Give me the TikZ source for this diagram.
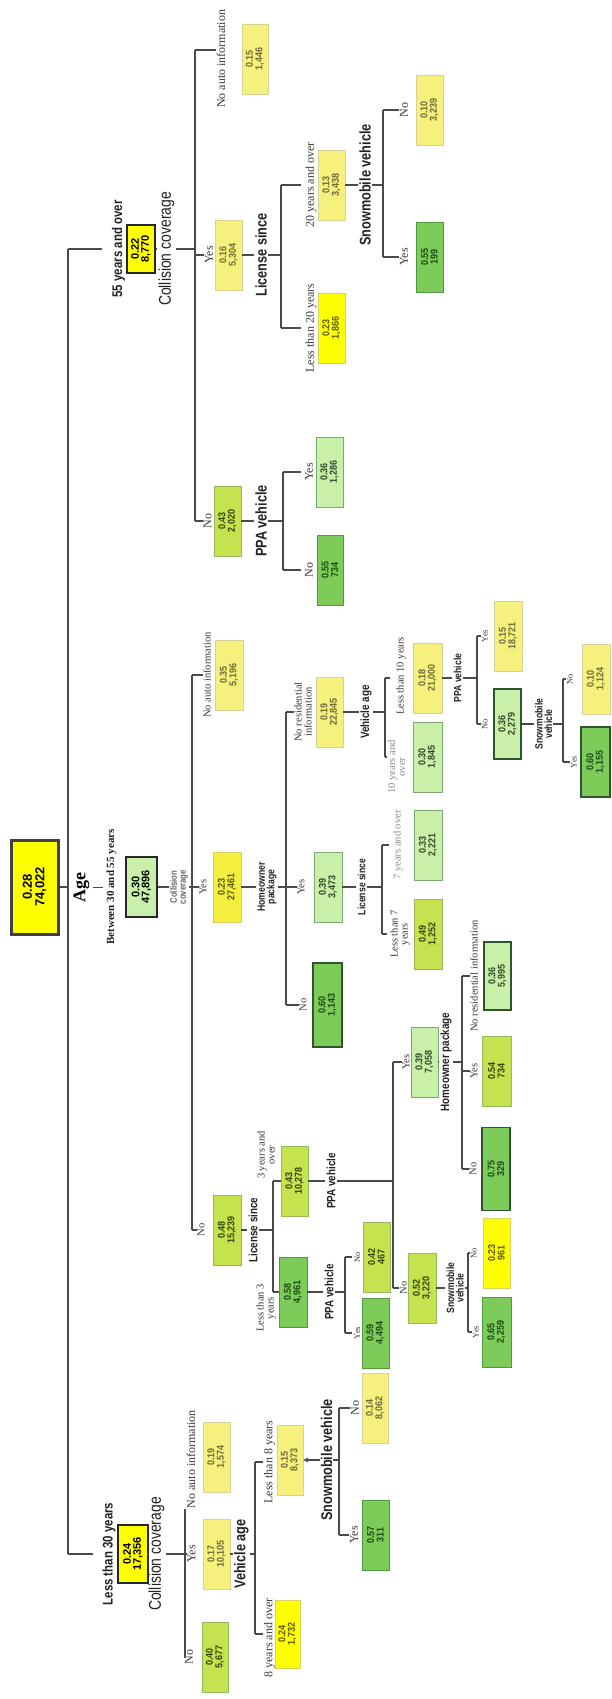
\documentclass[tikz,border=0pt]{standalone}
\usepackage{fontspec}
\setmainfont{Liberation Serif}
\newfontfamily\sansC{Liberation Sans}[FakeStretch=0.82]
\newfontfamily\sansB{Liberation Sans}[FakeStretch=0.9]
\usetikzlibrary{arrows.meta}
\definecolor{linec}{HTML}{4A4A4A}
\definecolor{paleF}{HTML}{F6F07C}
\definecolor{paleD}{HTML}{D6D29A}
\definecolor{paleT}{HTML}{6E6A3A}
\definecolor{brightF}{HTML}{FFFF00}
\definecolor{brightD}{HTML}{D8D060}
\definecolor{brightT}{HTML}{5A5A10}
\definecolor{ygF}{HTML}{C5E34F}
\definecolor{ygD}{HTML}{98B860}
\definecolor{ygT}{HTML}{34440F}
\definecolor{lgF}{HTML}{C9F0A8}
\definecolor{lgD}{HTML}{7BAA70}
\definecolor{lgT}{HTML}{2E4A2A}
\definecolor{grF}{HTML}{7DCB58}
\definecolor{grD}{HTML}{4F9A40}
\definecolor{grT}{HTML}{1D4A1A}
\definecolor{dgD}{HTML}{2E5530}
\definecolor{y2F}{HTML}{F4EE3E}
\definecolor{labT}{HTML}{3A3A3A}
\definecolor{splT}{HTML}{222222}
\tikzset{
  conn/.style={draw=linec, line width=1.3pt},
  bx/.style={rotate=90, draw, line width=0.8pt, inner sep=0pt, align=center,
    font=\sansB\bfseries\fontsize{10}{9.5}\selectfont, minimum width=70pt, minimum height=27pt},
  bxPale/.style={bx, fill=paleF, draw=paleD, text=paleT},
  bxBright/.style={bx, fill=brightF, draw=brightD, text=brightT},
  bxY2/.style={bx, fill=y2F, draw=brightD, text=brightT},
  bxYG/.style={bx, fill=ygF, draw=ygD, text=ygT},
  bxLG/.style={bx, fill=lgF, draw=lgD, text=lgT},
  bxLGd/.style={bx, fill=lgF, draw=dgD, line width=1.1pt, text=lgT},
  bxGreen/.style={bx, fill=grF, draw=grD, text=grT},
  bxDG/.style={bx, fill=grF, draw=dgD, line width=1.4pt, text=grT},
  bxMain/.style={bx, draw=black!85, line width=2.6pt, text=black,
    font=\sansN\bfseries\fontsize{11}{10}\selectfont},
  lab/.style={rotate=90, inner sep=0.5pt, align=center, text=labT,
    font=\fontsize{12}{11}\selectfont},
  labm/.style={lab, font=\fontsize{10.5}{10}\selectfont},
  labs/.style={lab, font=\fontsize{8.5}{8}\selectfont},
  spl/.style={rotate=90, inner sep=1pt, align=center, text=splT,
    font=\sansC\bfseries\fontsize{15.5}{15}\selectfont},
  splM/.style={spl, font=\sansC\bfseries\fontsize{12}{11}\selectfont},
  splS/.style={spl, font=\sansC\bfseries\fontsize{10.5}{9.5}\selectfont},
  agelab/.style={rotate=90, inner sep=0.5pt, text=splT,
    font=\sansC\bfseries\fontsize{14}{14}\selectfont},
  cov/.style={rotate=90, inner sep=1pt, text=splT,
    font=\sansC\fontsize{17}{17}\selectfont},
  covs/.style={rotate=90, inner sep=1pt, align=center, text=black!60,
    font=\sansC\bfseries\fontsize{9.5}{9}\selectfont},
}
\newfontfamily\sansN{Liberation Sans}
\begin{document}
\begin{tikzpicture}[x=1pt,y=-1pt]
\fill[white] (0,0) rectangle (611,1699);
\useasboundingbox (0,0) rectangle (611,1699);

% ---------------- root ----------------
\node[bxMain, fill=brightF, draw=black!75, line width=3pt, minimum width=94pt, minimum height=47pt,
  font=\sansN\bfseries\fontsize{13}{12.5}\selectfont] (root) at (34.5,887) {0.28\\74,022};
\coordinate (rA) at (68,249);
\coordinate (rB) at (68,887);
\coordinate (rC) at (68,1554);
\draw[conn] (rA) -- (rC);
\draw[conn] (root) -- (rB);
\node[rotate=90, inner sep=0.5pt, font=\bfseries\fontsize{18}{18}\selectfont] (age) at (81.5,887) {Age};

% ---------------- 55 years and over ----------------
\node[agelab] (a55) at (118.5,249) {55 years and over};
\draw[conn, shorten >=9pt] (rA) -- (a55);
\node[bxMain, fill=brightF, minimum width=48pt, minimum height=28pt] (b55) at (141,249) {0.22\\8,770};
\node[cov] (cc55) at (166.5,249) {Collision coverage};
\coordinate (c55) at (195,249);
\draw[conn] (b55) -- (cc55) -- (c55);
\coordinate (k55a) at (195,50);
\coordinate (k55b) at (195,255);
\coordinate (k55c) at (195,521);
\draw[conn] (k55a) -- (k55c);
\node[lab] (l55a) at (221,59) {No auto information};
\draw[conn] (k55a) -- (k55a -| l55a.north);
\node[bxPale, minimum height=26pt] (n55a) at (255,59) {0.15\\1,446};
\node[lab] (l55b) at (209,255) {Yes};
\draw[conn] (k55b) -- (l55b);
\node[bxPale] (n55b) at (228.5,255) {0.16\\5,304};
\node[lab] (l55c) at (207.5,521) {No};
\draw[conn] (k55c) -- (l55c);
\node[bxYG] (n55c) at (227.5,521) {0.43\\2,020};

% License since
\node[spl] (s55b) at (261,255) {License since};
\coordinate (c55b) at (281,255);
\draw[conn] (n55b) -- (s55b) -- (c55b);
\coordinate (k55ba) at (281,185);
\coordinate (k55bb) at (281,328);
\draw[conn] (k55ba) -- (k55bb);
\node[lab] (l55ba) at (311,185) {20 years and over};
\draw[conn, shorten >=4pt] (k55ba) -- (l55ba);
\node[bxPale] (n55ba) at (331.5,185) {0.13\\3,438};
\node[lab] (l55bb) at (311,328) {Less than 20 years};
\draw[conn, shorten >=4pt] (k55bb) -- (l55bb);
\node[bxBright] (n55bb) at (331.5,328) {0.23\\1,866};

% Snowmobile vehicle
\node[spl] (s55ba) at (365,185) {Snowmobile vehicle};
\coordinate (c55ba) at (383,185);
\draw[conn] (n55ba) -- (s55ba) -- (c55ba);
\coordinate (k55baa) at (383,110);
\coordinate (k55bab) at (383,257);
\draw[conn] (k55baa) -- (k55bab);
\node[lab] (l55baa) at (404,110) {No};
\draw[conn] (k55baa) -- (l55baa);
\node[bxPale] (n55baa) at (429.5,110) {0.10\\3,239};
\node[lab] (l55bab) at (404,257) {Yes};
\draw[conn] (k55bab) -- (l55bab);
\node[bxGreen] (n55bab) at (429.5,257) {0.55\\199};

% PPA vehicle
\node[spl] (s55c) at (261,521) {PPA vehicle};
\coordinate (c55c) at (283,521);
\draw[conn] (n55c) -- (s55c) -- (c55c);
\coordinate (k55ca) at (283,472);
\coordinate (k55cb) at (283,570);
\draw[conn] (k55ca) -- (k55cb);
\node[lab] (l55ca) at (309,472) {Yes};
\draw[conn, shorten >=3pt] (k55ca) -- (l55ca);
\node[bxLG] (n55ca) at (329.5,472) {0.36\\1,286};
\node[lab] (l55cb) at (309,570) {No};
\draw[conn, shorten >=3pt] (k55cb) -- (l55cb);
\node[bxGreen, minimum height=26pt] (n55cb) at (330,570) {0.55\\734};

% ---------------- Between 30 and 55 years ----------------
\node[rotate=90, inner sep=0.5pt, text=splT, font=\bfseries\fontsize{11}{11}\selectfont] (a3055) at (111.5,887) {Between 30 and 55 years};
\draw[draw=linec, line width=0.8pt, shorten <=3pt, shorten >=3pt] (age) -- (a3055);
\node[bxMain, fill=lgF, minimum width=60pt, minimum height=31pt] (b3055) at (141.5,887) {0.30\\47,896};
\node[covs] (cc3055) at (179,887) {Collision\\coverage};
\coordinate (c3055) at (192,887);
\draw[conn] (b3055) -- (cc3055) -- (c3055);
\coordinate (kMa) at (192,675);
\coordinate (kMb) at (192,887);
\coordinate (kMc) at (192,1230);
\draw[conn] (kMa) -- (kMc);
\node[labm] (lMa) at (207,675) {No auto information};
\draw[conn] (kMa) -- (lMa);
\node[bxPale, minimum height=28pt] (nMa) at (229,675) {0.35\\5,196};
\node[labm] (lMb) at (203,887) {Yes};
\draw[conn] (kMb) -- (lMb);
\node[bxY2, minimum height=28pt] (nMb) at (227,887) {0.23\\27,461};
\node[labm] (lMc) at (201,1230) {No};
\draw[conn] (kMc) -- (lMc);
\node[bxYG, minimum height=28pt] (nMc) at (227,1230) {0.48\\15,239};

% Homeowner package (Yes)
\node[splS] (sMb) at (267,887) {Homeowner\\package};
\coordinate (cMb) at (286,887);
\draw[conn] (nMb) -- (sMb) -- (cMb);
\coordinate (kMba) at (286,712);
\coordinate (kMbb) at (286,887);
\coordinate (kMbc) at (286,1005);
\draw[conn] (kMba) -- (kMbc);
\node[labm] (lMba) at (303,712) {No residential\\information};
\draw[conn] (kMba) -- (lMba);
\node[bxPale] (nMba) at (329.5,712) {0.19\\22,845};
\node[labm] (lMbb) at (301,887) {Yes};
\draw[conn] (kMbb) -- (lMbb);
\node[bxLG, minimum height=28pt] (nMbb) at (328,887) {0.39\\3,473};
\node[labm] (lMbc) at (303,1005) {No};
\draw[conn] (kMbc) -- (lMbc);
\node[bxDG, minimum width=84pt, minimum height=29pt] (nMbc) at (327.5,1005) {0.60\\1,143};

% Vehicle age (No residential information)
\node[splM] (sMba) at (366,712) {Vehicle age};
\coordinate (cMba) at (385,712);
\draw[conn] (nMba) -- (sMba) -- (cMba);
\coordinate (kMbaa) at (385,678);
\coordinate (kMbab) at (385,757);
\draw[conn] (kMbaa) -- (kMbab);
\node[labm] (lMbaa) at (401,676) {Less than 10 years};
\draw[conn, shorten >=6pt] (kMbaa) -- (kMbaa -| lMbaa.north);
\node[bxPale, minimum height=29pt] (nMbaa) at (427.5,678) {0.18\\21,000};
\node[labm, text=black!45] (lMbab) at (396.5,767) {10 years and\\over};
\draw[conn] (kMbab) -- (kMbab -| lMbab.north);
\node[bxLG, minimum height=29pt] (nMbab) at (427.5,757) {0.30\\1,845};

% PPA vehicle (Less than 10 years)
\node[splS] (sMbaa) at (457.5,678) {PPA vehicle};
\coordinate (cMbaa) at (477,678);
\draw[conn] (nMbaa) -- (sMbaa) -- (cMbaa);
\coordinate (kMbaaa) at (477,636);
\coordinate (kMbaab) at (477,724);
\draw[conn] (kMbaaa) -- (kMbaab);
\node[labs] (lMbaaa) at (485,636) {Yes};
\draw[conn] (kMbaaa) -- (lMbaaa);
\node[bxPale, minimum height=28pt] (nMbaaa) at (508,636) {0.15\\18,721};
\node[labs] (lMbaab) at (485,724) {No};
\draw[conn] (kMbaab) -- (lMbaab);
\node[bxLGd] (nMbaab) at (507.5,724) {0.36\\2,279};

% Snowmobile vehicle (PPA No)
\node[splS] (sMbaab) at (543.5,724) {Snowmobile\\vehicle};
\coordinate (cMbaab) at (563,724);
\draw[conn] (nMbaab) -- (sMbaab) -- (cMbaab);
\coordinate (kMbaaba) at (563,679);
\coordinate (kMbaabb) at (563,762);
\draw[conn] (kMbaaba) -- (kMbaabb);
\node[labs] (lMbaaba) at (570,679) {No};
\draw[conn] (kMbaaba) -- (lMbaaba);
\node[bxPale, minimum height=28pt] (nMbaaba) at (596,679) {0.10\\1,124};
\node[labs] (lMbaabb) at (574,762) {Yes};
\draw[conn] (kMbaabb) -- (lMbaabb);
\node[bxDG, minimum height=29pt] (nMbaabb) at (595.5,762) {0.60\\1,155};

% License since (Homeowner Yes)
\node[splS] (sMbb) at (361.5,887) {License since};
\coordinate (cMbb) at (382,887);
\draw[conn] (nMbb) -- (sMbb) -- (cMbb);
\coordinate (kMbba) at (382,845);
\coordinate (kMbbb) at (382,934);
\draw[conn] (kMbba) -- (kMbbb);
\node[labm, text=black!45] (lMbba) at (398,845) {7 years and over};
\draw[conn, shorten >=4pt] (kMbba) -- (lMbba);
\node[bxLG, minimum height=28pt] (nMbba) at (428,845) {0.33\\2,221};
\node[labm] (lMbbb) at (400,934) {Less than 7\\years};
\draw[conn, shorten >=3pt] (kMbbb) -- (lMbbb);
\node[bxYG, minimum height=28pt] (nMbbb) at (428,934) {0.49\\1,252};

% License since (Collision No)
\node[splM] (sMc) at (253,1230) {License since};
\coordinate (cMc) at (273,1230);
\draw[conn] (nMc) -- (sMc) -- (cMc);
\coordinate (kMca) at (273,1181);
\coordinate (kMcb) at (273,1292);
\draw[conn] (kMca) -- (kMcb);
\node[labm] (lMca) at (266,1155) {3 years and\\over};
\node[bxYG] (nMca) at (294.5,1181) {0.43\\10,278};
\draw[conn] (kMca) -- (nMca);
\node[labm] (lMcb) at (266,1308) {Less than 3\\years};
\node[bxGreen, minimum height=28pt] (nMcb) at (293,1292) {0.58\\4,961};
\draw[conn] (kMcb) -- (nMcb);

% PPA vehicle (Less than 3 years)
\node[splM] (sMcb) at (329,1292) {PPA vehicle};
\coordinate (cMcb) at (345,1292);
\draw[conn] (nMcb) -- (sMcb) -- (cMcb);
\coordinate (kMcba) at (345,1257);
\coordinate (kMcbb) at (345,1333);
\draw[conn] (kMcba) -- (kMcbb);
\node[labs] (lMcba) at (357.5,1257) {No};
\draw[conn, shorten >=2pt] (kMcba) -- (lMcba);
\node[bxYG] (nMcba) at (376.5,1257) {0.42\\467};
\node[labs] (lMcbb) at (357.5,1333) {Yes};
\draw[conn, shorten >=2pt] (kMcbb) -- (lMcbb);
\node[bxGreen] (nMcbb) at (375.5,1333) {0.59\\4,494};

% PPA vehicle (3 years and over)
\node[splM] (sMca) at (331,1181) {PPA vehicle};
\coordinate (cMca) at (393,1181);
\draw[conn] (nMca) -- (sMca) -- (cMca);
\coordinate (kMcaa) at (393,1062);
\coordinate (kMcab) at (393,1288);
\draw[conn] (kMcaa) -- (kMcab);
\node[labm] (lMcaa) at (406,1062) {Yes};
\draw[conn] (kMcaa) -- (lMcaa);
\node[bxLG] (nMcaa) at (424.5,1062) {0.39\\7,058};
\node[labm] (lMcab) at (403.5,1288) {No};
\draw[conn] (kMcab) -- (lMcab);
\node[bxYG, minimum height=28pt] (nMcab) at (422,1288) {0.52\\3,220};

% Homeowner package (PPA Yes)
\node[splM] (sMcaa) at (446,1062) {Homeowner package};
\coordinate (cMcaa) at (462,1062);
\draw[conn] (nMcaa) -- (sMcaa) -- (cMcaa);
\coordinate (kMcaaa) at (462,976);
\coordinate (kMcaab) at (462,1071);
\coordinate (kMcaac) at (462,1169);
\draw[conn] (kMcaaa) -- (kMcaac);
\node[labm] (lMcaaa) at (474,976) {No residential information};
\draw[conn] (kMcaaa) -- (lMcaaa);
\node[bxLGd, minimum width=68pt] (nMcaaa) at (497.5,976) {0.36\\5,995};
\node[labm] (lMcaab) at (474,1071) {Yes};
\draw[conn] (kMcaab) -- (lMcaab);
\node[bxYG, minimum height=29pt] (nMcaab) at (496.5,1071) {0.54\\734};
\node[labm] (lMcaac) at (473,1169) {No};
\draw[conn] (kMcaac) -- (lMcaac);
\node[bxDG, minimum width=83pt, minimum height=28pt] (nMcaac) at (496,1169) {0.75\\329};

% Snowmobile vehicle (PPA No)
\node[splS] (sMcab) at (455,1288) {Snowmobile\\vehicle};
\coordinate (cMcab) at (468,1288);
\draw[conn] (nMcab) -- (sMcab) -- (cMcab);
\coordinate (kMcaba) at (468,1253);
\coordinate (kMcabb) at (468,1332);
\draw[conn] (kMcaba) -- (kMcabb);
\node[labs] (lMcaba) at (474,1253) {No};
\draw[conn] (kMcaba) -- (lMcaba);
\node[bxBright] (nMcaba) at (496.5,1253) {0.23\\961};
\node[labs] (lMcabb) at (476,1332) {Yes};
\draw[conn] (kMcabb) -- (lMcabb);
\node[bxGreen, minimum height=29pt] (nMcabb) at (496.5,1332) {0.65\\2,259};

% ---------------- Less than 30 years ----------------
\node[agelab] (a30) at (109,1554) {Less than 30 years};
\draw[conn, shorten >=9pt] (rC) -- (a30);
\node[bxMain, fill=brightF, minimum width=58pt, minimum height=30pt] (b30) at (133,1554) {0.24\\17,356};
\node[cov] (cc30) at (156.5,1554) {Collision coverage};
\coordinate (c30) at (185,1554);
\draw[conn] (b30) -- (cc30) -- (c30);
\node[lab] (l30a) at (191,1459) {No auto information};
\coordinate (k30b) at (185,1554);
\coordinate (k30c) at (185,1657);
\draw[conn] (c30 |- l30a.west) -- (k30c);
\node[bxPale] (n30a) at (216.5,1457) {0.19\\1,574};
\node[lab] (l30b) at (191.5,1554) {Yes};
\draw[conn] (k30b) -- (l30b);
\node[bxPale] (n30b) at (216.5,1554) {0.17\\10,105};
\node[lab] (l30c) at (189,1657) {No};
\draw[conn] (k30c) -- (l30c);
\node[bxYG, minimum height=26pt] (n30c) at (215,1657) {0.40\\5,677};

% Vehicle age
\node[spl] (s30b) at (241.5,1554) {Vehicle age};
\coordinate (c30b) at (255,1554);
\draw[conn] (n30b) -- (s30b) -- (c30b);
\coordinate (k30ba) at (255,1462);
\coordinate (k30bb) at (255,1634);
\draw[conn] (k30ba) -- (k30bb);
\node[lab] (l30ba) at (269.5,1462) {Less than 8 years};
\draw[conn] (k30ba) -- (l30ba);
\node[bxPale, minimum height=26pt] (n30ba) at (290,1460) {0.15\\8,373};
\node[lab] (l30bb) at (269.5,1638) {8 years and over};
\draw[conn] (k30bb) -- (k30bb -| l30bb.north);
\node[bxBright, minimum width=68pt, minimum height=25pt] (n30bb) at (287.5,1634) {0.24\\1,732};

% Snowmobile vehicle
\node[spl] (s30ba) at (326.5,1460) {Snowmobile vehicle};
\coordinate (c30ba) at (339,1460);
\draw[conn, {Stealth[length=5pt,width=5pt]}-] (n30ba) -- (s30ba);
\draw[conn] (s30ba) -- (c30ba);
\coordinate (k30baa) at (339,1408);
\coordinate (k30bab) at (339,1535);
\draw[conn] (k30baa) -- (k30bab);
\node[lab] (l30baa) at (355,1408) {No};
\draw[conn] (k30baa) -- (l30baa);
\node[bxPale, minimum height=26pt] (n30baa) at (375,1408) {0.14\\8,062};
\node[lab] (l30bab) at (354,1535) {Yes};
\draw[conn] (k30bab) -- (l30bab);
\node[bxGreen] (n30bab) at (375.5,1535) {0.57\\311};
\end{tikzpicture}
\end{document}
